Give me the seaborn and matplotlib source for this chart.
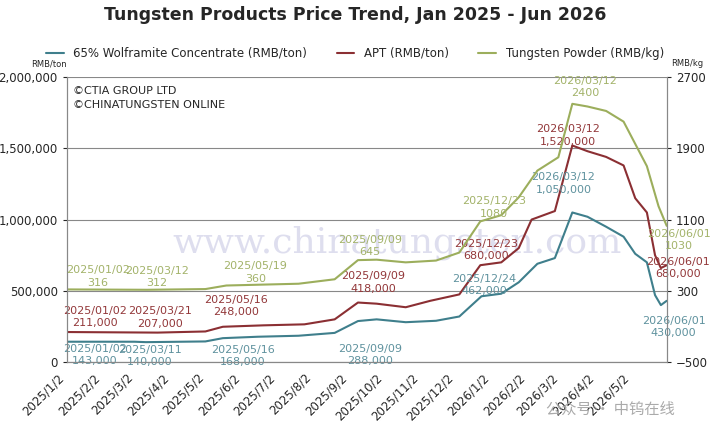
import matplotlib
matplotlib.use("Agg")
import matplotlib.pyplot as plt
import matplotlib.dates as mdates
import seaborn as sns
import pandas as pd

sns.set_style("white")
plt.rcParams["font.family"] = ["DejaVu Sans", "Noto Sans CJK SC"]

conc_dates = ["2025-01-02", "2025-03-01", "2025-03-11", "2025-05-01", "2025-05-16", "2025-06-15",
              "2025-07-20", "2025-08-20", "2025-09-09", "2025-09-25", "2025-10-20", "2025-11-15",
              "2025-12-05", "2025-12-24", "2026-01-10", "2026-01-25", "2026-02-10", "2026-02-25",
              "2026-03-12", "2026-03-25", "2026-04-10", "2026-04-25", "2026-05-05", "2026-05-15",
              "2026-05-22", "2026-05-27", "2026-06-01"]
conc_vals = [143000, 143000, 140000, 145000, 168000, 178000, 185000, 205000, 288000, 300000,
             280000, 290000, 320000, 462000, 480000, 560000, 690000, 730000, 1050000, 1020000,
             950000, 880000, 760000, 700000, 470000, 400000, 430000]

apt_dates = ["2025-01-02", "2025-03-21", "2025-05-01", "2025-05-16", "2025-06-20", "2025-07-25",
             "2025-08-20", "2025-09-09", "2025-09-25", "2025-10-20", "2025-11-10", "2025-12-05",
             "2025-12-23", "2026-01-10", "2026-01-25", "2026-02-05", "2026-02-25", "2026-03-12",
             "2026-03-25", "2026-04-10", "2026-04-25", "2026-05-05", "2026-05-15", "2026-05-22",
             "2026-05-27", "2026-06-01"]
apt_vals = [211000, 207000, 215000, 248000, 258000, 265000, 300000, 418000, 410000, 385000,
            430000, 475000, 680000, 700000, 800000, 1000000, 1060000, 1520000, 1480000, 1440000,
            1380000, 1150000, 1050000, 750000, 660000, 680000]

pow_dates = ["2025-01-02", "2025-03-12", "2025-05-01", "2025-05-19", "2025-07-20", "2025-08-20",
             "2025-09-09", "2025-09-25", "2025-10-20", "2025-11-15", "2025-12-05", "2025-12-23",
             "2026-01-10", "2026-01-25", "2026-02-10", "2026-02-28", "2026-03-12", "2026-03-25",
             "2026-04-10", "2026-04-25", "2026-05-05", "2026-05-15", "2026-05-25", "2026-06-01"]
pow_vals = [316, 312, 320, 360, 380, 430, 645, 650, 620, 640, 730, 1080, 1150, 1350, 1650,
            1800, 2400, 2370, 2320, 2200, 1950, 1700, 1250, 1030]

# (date, value, text, offset in pixels)
conc_labels = [
    ("2025-01-02", 143000, "2025/01/02\n143,000", (28, -13)),
    ("2025-03-11", 140000, "2025/03/11\n140,000", (4, -14)),
    ("2025-05-16", 168000, "2025/05/16\n168,000", (20, -18)),
    ("2025-09-09", 288000, "2025/09/09\n288,000", (12, -34)),
    ("2025-12-24", 462000, "2025/12/24\n462,000", (3, 11)),
    ("2026-03-12", 1050000, "2026/03/12\n1,050,000", (-9, 29)),
    ("2026-06-01", 430000, "2026/06/01\n430,000", (7, -26)),
]
apt_labels = [
    ("2025-01-02", 211000, "2025/01/02\n211,000", (28, 15)),
    ("2025-03-21", 207000, "2025/03/21\n207,000", (2, 15)),
    ("2025-05-16", 248000, "2025/05/16\n248,000", (13, 21)),
    ("2025-09-09", 418000, "2025/09/09\n418,000", (15, 20)),
    ("2025-12-23", 680000, "2025/12/23\n680,000", (6, 15)),
    ("2026-03-12", 1520000, "2026/03/12\n1,520,000", (-4, 10)),
    ("2026-06-01", 680000, "2026/06/01\n680,000", (11, -3)),
]
pow_labels = [
    ("2025-01-02", 316, "2025/01/02\n316", (31, 13)),
    ("2025-03-12", 312, "2025/03/12\n312", (10, 13)),
    ("2025-05-19", 360, "2025/05/19\n360", (29, 13)),
    ("2025-09-09", 645, "2025/09/09\n645", (12, 14)),
    ("2025-12-23", 1080, "2025/12/23\n1080", (14, 14)),
    ("2026-03-12", 2400, "2026/03/12\n2400", (13, 17)),
    ("2026-06-01", 1030, "2026/06/01\n1030", (12, -14)),
]

conc = pd.DataFrame({"date": pd.to_datetime(conc_dates), "v": conc_vals})
apt = pd.DataFrame({"date": pd.to_datetime(apt_dates), "v": apt_vals})
powder = pd.DataFrame({"date": pd.to_datetime(pow_dates), "v": pow_vals})

c_conc, c_apt, c_pow = "#3f7f8c", "#8b2f33", "#9cae5c"
t_conc, t_apt, t_pow = "#5f929e", "#93383a", "#a3b36a"

fig, ax = plt.subplots(figsize=(7.1, 4.26), dpi=100)
fig.subplots_adjust(left=0.094, right=0.939, top=0.819, bottom=0.150)
ax2 = ax.twinx()

sns.lineplot(data=conc, x="date", y="v", ax=ax, color=c_conc, lw=1.5,
             label="65% Wolframite Concentrate (RMB/ton)", legend=False)
sns.lineplot(data=apt, x="date", y="v", ax=ax, color=c_apt, lw=1.5,
             label="APT (RMB/ton)", legend=False)
sns.lineplot(data=powder, x="date", y="v", ax=ax2, color=c_pow, lw=1.5,
             label="Tungsten Powder (RMB/kg)", legend=False)

ax.set_ylim(0, 2000000)
ax2.set_ylim(-500, 2700)
ax.set_yticks(range(0, 2000001, 500000))
ax2.set_yticks(range(-500, 2701, 800))
ax.yaxis.set_major_formatter(matplotlib.ticker.StrMethodFormatter("{x:,.0f}"))
ax.set_xlim(pd.Timestamp("2025-01-02"), pd.Timestamp("2026-06-01"))
ax.xaxis.set_major_locator(mdates.MonthLocator(bymonthday=2))
ax.xaxis.set_major_formatter(matplotlib.ticker.FuncFormatter(
    lambda x, p: f"{mdates.num2date(x).year}/{mdates.num2date(x).month}/2"))
for lab in ax.get_xticklabels():
    lab.set_rotation(45)
    lab.set_ha("right")
ax.tick_params(labelsize=8.5, length=3)
ax2.tick_params(labelsize=8.5, length=3)
ax.grid(axis="y", color="#888888", lw=0.8)
ax.set_xlabel("")
ax.set_ylabel("")
ax2.set_ylabel("")
for a in (ax, ax2):
    for s in a.spines.values():
        s.set_color("#888888")
    a.spines["top"].set_visible(False)

ax.text(0.55, 0.42, "www.chinatungsten.com", transform=ax.transAxes, fontsize=26,
        color="#c8c8e4", alpha=0.6, ha="center", va="center", family="DejaVu Serif", zorder=0)

for axis, labels, col in ((ax, conc_labels, t_conc), (ax, apt_labels, t_apt), (ax2, pow_labels, t_pow)):
    for d, v, t, off in labels:
        axis.annotate(t, (pd.Timestamp(d), v), xytext=off, textcoords="offset pixels",
                      color=col, fontsize=8, ha="center", va="center", linespacing=1.3,
                      annotation_clip=False)

ax.text(0.01, 0.97, "©CTIA GROUP LTD\n©CHINATUNGSTEN ONLINE", transform=ax.transAxes,
        fontsize=8, va="top", linespacing=1.5)
fig.text(0.094, 0.845, "RMB/ton", fontsize=6, ha="right")
fig.text(0.945, 0.845, "RMB/kg", fontsize=6, ha="left")

fig.suptitle("Tungsten Products Price Trend, Jan 2025 - Jun 2026", fontsize=12.5,
             fontweight="bold", y=0.985)
h1, l1 = ax.get_legend_handles_labels()
h2, l2 = ax2.get_legend_handles_labels()
fig.legend(h1 + h2, l1 + l2, loc="upper center", bbox_to_anchor=(0.5, 0.915), ncol=3,
           frameon=False, fontsize=8.5, handlelength=1.5, columnspacing=2.5)
fig.text(0.86, 0.03, "公众号 · 中钨在线", fontsize=11, color="#aaaaaa", ha="center",
         family=["Noto Sans CJK SC"])

fig.savefig("out.png", dpi=100)
